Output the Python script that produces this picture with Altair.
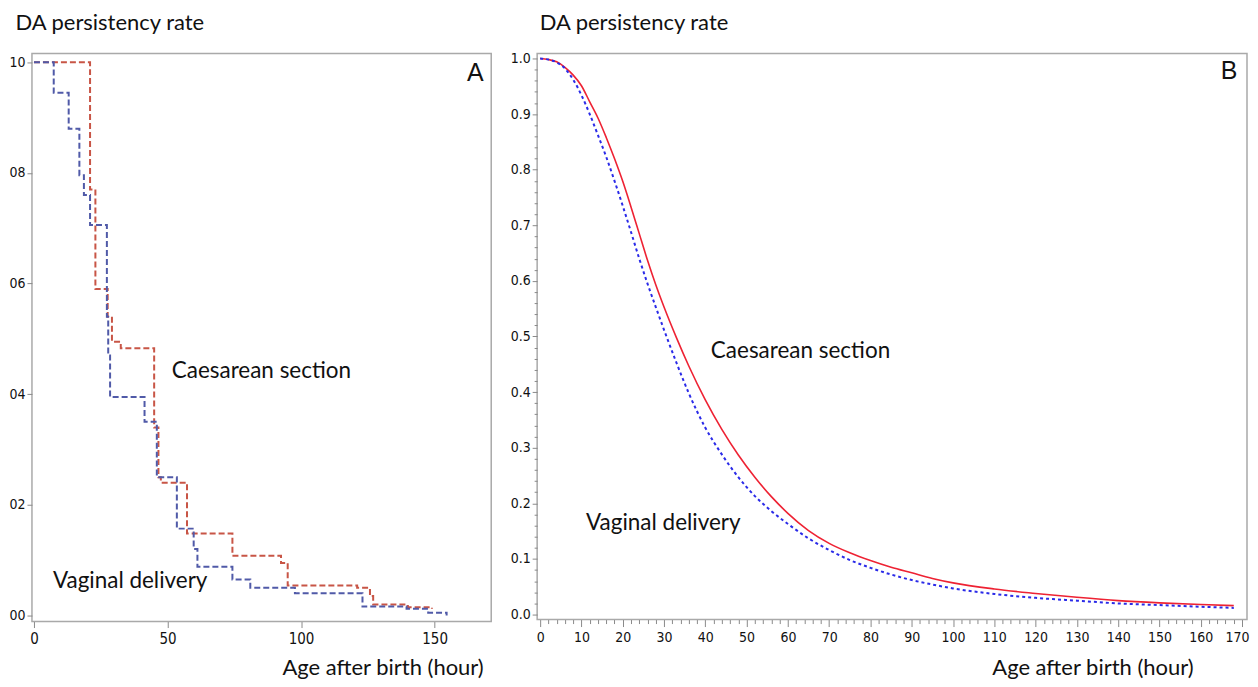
import altair as alt
import pandas as pd

# ---------------- Panel A : Kaplan-Meier step estimates ----------------
a_cs_hours = [0, 21, 23, 27.6, 29.2, 32.5, 45, 46.6, 47.5, 57.3, 74.3, 92.5, 95, 121, 125.8, 127, 140, 149]
a_cs_rate = [1.0, 0.77, 0.59, 0.54, 0.495, 0.483, 0.34, 0.25, 0.24, 0.148, 0.108, 0.095, 0.054, 0.05, 0.035, 0.02, 0.015, 0.012]

a_vd_hours = [0, 7.4, 13, 17, 18.7, 21, 27.3, 27.8, 28.5, 41.4, 46, 53.5, 59.8, 61.2, 74.3, 81, 97.7, 123, 139.5, 147.6, 154.5]
a_vd_rate = [1.0, 0.945, 0.88, 0.796, 0.76, 0.706, 0.54, 0.47, 0.395, 0.35, 0.25, 0.157, 0.12, 0.088, 0.065, 0.05, 0.04, 0.016, 0.012, 0.005, 0.0]

a_x_ticks = [0, 50, 100, 150]
a_y_ticks = [0.0, 0.2, 0.4, 0.6, 0.8, 1.0]

# ---------------- Panel B : smooth model curves ----------------
b_hours = [0, 2, 4, 6, 8, 10, 12, 14, 16, 18, 20, 22, 24, 26, 28, 30, 33, 36, 40, 44, 48,
           52, 56, 60, 65, 70, 75, 80, 85, 90, 95, 100, 110, 120, 130, 140, 150, 160, 168]
b_cs_rate = [1.0, 0.998, 0.994, 0.984, 0.97, 0.951, 0.922, 0.893, 0.858, 0.82, 0.779, 0.733, 0.685,
             0.637, 0.593, 0.553, 0.498, 0.447, 0.386, 0.333, 0.287, 0.247, 0.212, 0.182, 0.151,
             0.128, 0.111, 0.097, 0.085, 0.075, 0.065, 0.057, 0.046, 0.038, 0.031, 0.025, 0.021,
             0.018, 0.016]
b_vd_rate = [1.0, 0.998, 0.993, 0.982, 0.962, 0.934, 0.90, 0.862, 0.823, 0.78, 0.735, 0.688, 0.64,
             0.595, 0.553, 0.512, 0.453, 0.398, 0.336, 0.288, 0.247, 0.213, 0.186, 0.163, 0.137,
             0.116, 0.098, 0.084, 0.072, 0.062, 0.054, 0.047, 0.037, 0.030, 0.025, 0.020, 0.017,
             0.014, 0.012]

b_x_ticks = list(range(0, 171, 2))
b_y_ticks = [round(i * 0.02, 2) for i in range(51)]

groups = ["Caesarean section", "Vaginal delivery"]

LABEL_FONT = "Liberation Sans Narrow, DejaVu Sans Condensed, Liberation Sans, Arial"
TEXT_FONT = "Lato"
TEXT_SIZE = 22.5

dfA = pd.DataFrame({
    "hour": a_cs_hours + a_vd_hours,
    "rate": a_cs_rate + a_vd_rate,
    "group": [groups[0]] * len(a_cs_hours) + [groups[1]] * len(a_vd_hours),
})
dfB_cs = pd.DataFrame({"hour": b_hours, "rate": b_cs_rate, "group": groups[0]})
dfB_vd = pd.DataFrame({"hour": b_hours, "rate": b_vd_rate, "group": groups[1]})


def text_layer(txt, x, y, size, font=TEXT_FONT, align="left"):
    return alt.Chart(pd.DataFrame({"t": [txt]})).mark_text(
        align=align, baseline="middle", font=font, fontSize=size, color="#111111"
    ).encode(text="t:N", x=alt.value(x), y=alt.value(y))


# ---------- Panel A ----------
WA, HA = 460, 569
xA = alt.X("hour:Q",
           scale=alt.Scale(domain=[-0.75, 171.2], nice=False, zero=False),
           axis=alt.Axis(values=a_x_ticks, title="Age after birth (hour)", format="d", grid=False,
                         tickSize=6, labelPadding=4, labelFlush=False, labelFontSize=15,
                         titleX=452, titleY=46, titleAlign="right", titleBaseline="middle"))
yA = alt.Y("rate:Q",
           scale=alt.Scale(domain=[-0.011, 1.016], nice=False, zero=False),
           axis=alt.Axis(values=a_y_ticks, labelExpr="replace(format(datum.value, '.1f'), '.', '')",
                         tickSize=5, labelPadding=2, grid=False, labelFontSize=14,
                         title="DA persistency rate", titleAngle=0, titleX=-17, titleY=-31,
                         titleAlign="left", titleBaseline="middle"))

linesA = alt.Chart(dfA).mark_line(interpolate="step-after", strokeDash=[6, 3], strokeWidth=2).encode(
    x=xA, y=yA,
    color=alt.Color("group:N", scale=alt.Scale(domain=groups, range=["#c85546", "#505aa8"]), legend=None),
)

panelA = alt.layer(
    linesA,
    text_layer("Caesarean section", 140, 318, TEXT_SIZE),
    text_layer("Vaginal delivery", 21, 528, TEXT_SIZE),
    text_layer("A", 444, 20, 25, font="Liberation Sans, Arial", align="center"),
).properties(width=WA, height=HA)

# ---------- Panel B ----------
WB, HB = 711, 567
xB = alt.X("hour:Q",
           scale=alt.Scale(domain=[-0.73, 171.2], nice=False, zero=False),
           axis=alt.Axis(values=b_x_ticks, grid=False,
                         labelExpr="datum.value % 10 === 0 ? datum.label : ''",
                         tickSize={"condition": {"test": "datum.value % 10 === 0", "value": 7}, "value": 4},
                         labelAlign={"condition": {"test": "datum.value === 170", "value": "right"}, "value": "center"},
                         labelOffset={"condition": {"test": "datum.value === 170", "value": 7}, "value": 0},
                         labelOverlap=False, labelFlush=False, labelPadding=4, labelFontSize=14,
                         title="Age after birth (hour)", titleX=657, titleY=48,
                         titleAlign="right", titleBaseline="middle"))
major_test = "abs(datum.value * 10 - round(datum.value * 10)) < 0.001"
yB = alt.Y("rate:Q",
           scale=alt.Scale(domain=[-0.009, 1.009], nice=False, zero=False),
           axis=alt.Axis(values=b_y_ticks, grid=False,
                         labelExpr=major_test + " ? format(datum.value, '.1f') : ''",
                         tickSize={"condition": {"test": major_test, "value": 5}, "value": 3},
                         labelOverlap=False, labelPadding=2, labelFontSize=14,
                         title="DA persistency rate", titleAngle=0, titleX=2, titleY=-31,
                         titleAlign="left", titleBaseline="middle"))

redB = alt.Chart(dfB_cs).mark_line(color="#ee2233", strokeWidth=1.6, interpolate="monotone").encode(x=xB, y=yB)
blueB = alt.Chart(dfB_vd).mark_line(color="#2a2ae8", strokeWidth=2, strokeDash=[3, 3],
                                    interpolate="monotone").encode(x=xB, y=yB)

panelB = alt.layer(
    redB, blueB,
    text_layer("Caesarean section", 174, 298, TEXT_SIZE),
    text_layer("Vaginal delivery", 49, 470, TEXT_SIZE),
    text_layer("B", 693, 18, 25, font="Liberation Sans, Arial", align="center"),
).properties(width=WB, height=HB)

chart = alt.hconcat(panelA, panelB, spacing=17).properties(
    padding={"left": 0, "top": 2, "right": 0, "bottom": 0},
    background="white",
).configure_view(
    stroke="#a9a9a9", strokeWidth=1.5
).configure_axis(
    domain=False, grid=False, tickColor="#8a8a8a", tickWidth=1,
    labelFont=LABEL_FONT, labelColor="#111111",
    titleFont=TEXT_FONT, titleFontSize=22, titleFontWeight="normal", titleColor="#111111",
)

chart.save("out.html", embed_options={"renderer": "svg", "actions": False})
